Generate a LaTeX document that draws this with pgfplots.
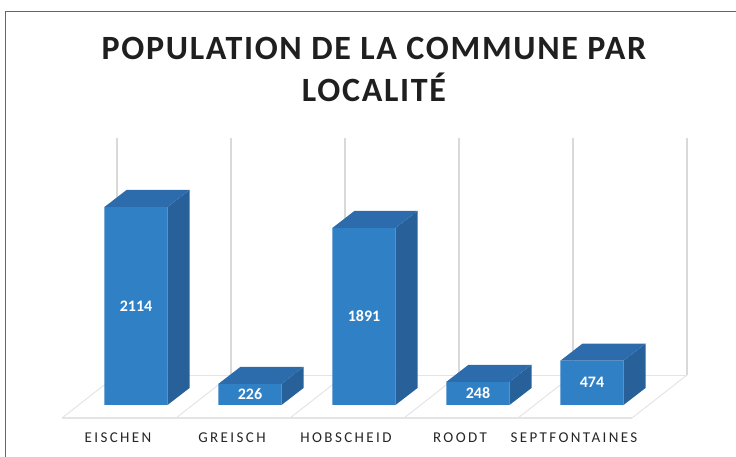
\documentclass[border=0pt]{standalone}
\usepackage{pgfplots}
\pgfplotsset{compat=1.18}
\usepackage{pgfplotstable}
\usepackage{fontspec}
\setmainfont{Carlito}
\newfontfamily\titlefont[LetterSpace=5]{Carlito}
\newfontfamily\labfont[LetterSpace=16]{Carlito}

\definecolor{barfront}{RGB}{48,128,198}
\definecolor{barside}{RGB}{40,96,154}
\definecolor{bartop}{RGB}{44,108,172}
\definecolor{gridgray}{RGB}{217,217,217}
\definecolor{floorgray}{RGB}{228,228,228}

% population per locality
\pgfplotstableread{
x pop
0 2114
1 226
2 1891
3 248
4 474
}\popdata

\begin{document}
\begin{tikzpicture}
\useasboundingbox (0,0) rectangle (736bp,-457bp);
\draw[black!60, line width=1bp] (5bp,-470bp) -- (5bp,-11bp) -- (750bp,-11bp);
\node[anchor=base, text=black!88, font=\titlefont\bfseries\fontsize{34bp}{40bp}\selectfont]
  at (374bp,-59bp) {POPULATION DE LA COMMUNE PAR};
\node[anchor=base, text=black!88, font=\titlefont\bfseries\fontsize{34bp}{40bp}\selectfont]
  at (374bp,-101bp) {LOCALITÉ};

\begin{axis}[
  x=114bp, y=0.09366bp,
  xmin=-0.75, xmax=4.9, ymin=-139, ymax=2851,
  at={(50.5bp,-418bp)}, anchor=south west,
  clip=false,
  axis line style={draw=none},
  ytick=\empty,
  xtick={0,...,4},
  xticklabels={EISCHEN,GREISCH,HOBSCHEID,ROODT,SEPTFONTAINES},
  major tick length=0pt,
  xticklabel style={font=\labfont\fontsize{15bp}{17bp}\selectfont, text=black!85,
    anchor=center, xshift=-18bp, yshift=-20bp},
]
% back wall and floor
\pgfplotsinvokeforeach{0,...,5}{
  \addplot[gridgray, line width=1.5bp] coordinates {(#1-0.167,320) (#1-0.167,2851)};
  \addplot[floorgray, line width=1bp] coordinates {(#1-0.649,-139) (#1-0.167,320)};
}
\addplot[floorgray, line width=1.2bp] coordinates {(-0.649,-139) (4.351,-139)};
\addplot[floorgray, line width=1bp] coordinates {(-0.167,320) (4.833,320)};

% front faces
\addplot[ybar, bar width=0.553, fill=barfront, draw=none] table[x=x, y=pop] {\popdata};

% side and top faces
\pgfplotsinvokeforeach{0,...,4}{
  \pgfplotstablegetelem{#1}{pop}\of\popdata
  \edef\barcmd{%
    \noexpand\addplot[fill=barside, draw=none] coordinates {(#1+0.2765,0) (#1+0.4695,181.5)
      (#1+0.4695,\pgfplotsretval+181.5) (#1+0.2765,\pgfplotsretval)};
    \noexpand\addplot[fill=bartop, draw=none] coordinates {(#1-0.2765,\pgfplotsretval)
      (#1+0.2765,\pgfplotsretval) (#1+0.4695,\pgfplotsretval+181.5) (#1-0.0835,\pgfplotsretval+181.5)};
  }
  \barcmd
}

% value labels
\addplot[draw=none, nodes near coords, point meta=explicit,
  every node near coord/.append style={anchor=center, text=white,
    font=\bfseries\fontsize{16bp}{18bp}\selectfont,
    /pgf/number format/1000 sep={}, /pgf/number format/assume math mode=true}]
  table[x=x, y expr=\thisrow{pop}/2, meta=pop] {\popdata};
\end{axis}
\end{tikzpicture}
\end{document}
